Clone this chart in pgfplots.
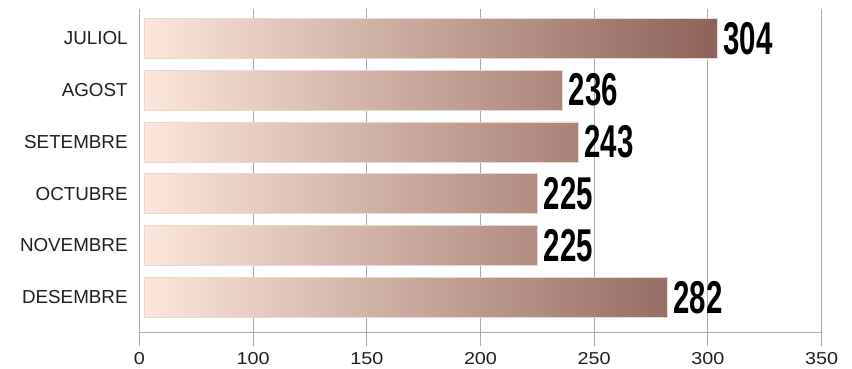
\documentclass[border=0pt]{standalone}
\usepackage{pgfplots}
\pgfplotsset{compat=1.18}
\usepackage{pgfplotstable}
\usepackage{fontspec}
\setmainfont{Liberation Sans}
\newfontfamily\numfont[FakeStretch=0.64]{Liberation Sans}
\newfontfamily\tickfont[FakeStretch=1.15]{Liberation Sans}

\definecolor{barlo}{HTML}{FCE6DA}
\definecolor{barhi}{HTML}{8D625A}
\definecolor{barrim}{HTML}{E9D7D1}
\definecolor{gridgray}{HTML}{ABABAB}

% Monthly totals; idx 0 is the bottom row
\pgfplotstableread{
idx v
0 282
1 225
2 225
3 243
4 236
5 304
}\monthdata

\begin{document}
\begin{tikzpicture}
% The value axis begins at 50; bars begin at 52, just right of the axis line
\begin{axis}[
  at={(139.3pt,35.7pt)}, anchor=south west,
  scale only axis, width=682.4pt, height=322.8pt,
  set layers, clip=false,
  xmin=-2, xmax=298,
  ymin=-0.676, ymax=5.556,
  xtick={-2,48,98,148,198,248,298},
  xticklabels={0,100,150,200,250,300,350},
  ytick={0,1,2,3,4,5},
  yticklabels={DESEMBRE,NOVEMBRE,OCTUBRE,SETEMBRE,AGOST,JULIOL},
  axis x line*=bottom, axis y line*=left,
  axis line style={-, draw=gridgray, line width=1pt},
  xmajorgrids, grid style={draw=gridgray, line width=1pt},
  tick align=outside, major tick length=13.5pt,
  xtick style={draw=gridgray, line width=1pt},
  ytick style={draw=none},
  xticklabel style={font=\tickfont\fontsize{17.2}{17.2}\selectfont, text=black!88, inner sep=0pt, yshift=-6.2pt},
  yticklabel style={font=\fontsize{18.8}{18.8}\selectfont, text=black!88, inner sep=0pt, xshift=2pt},
  /pgf/number format/assume math mode=true,
]
\addplot[xbar, bar width=0.772, left color=barlo, right color=barhi,
  draw=barrim, line width=0.6pt,
  point meta=explicit,
  nodes near coords,
  nodes near coords style={anchor=west, inner sep=0pt, xshift=6pt, text=black,
    font=\numfont\bfseries\fontsize{46}{46}\selectfont},
] table[x expr=\thisrow{v}-52, y=idx, meta=v] {\monthdata};
\end{axis}
\path (0,0) rectangle (852pt,368pt);
\end{tikzpicture}
\end{document}
